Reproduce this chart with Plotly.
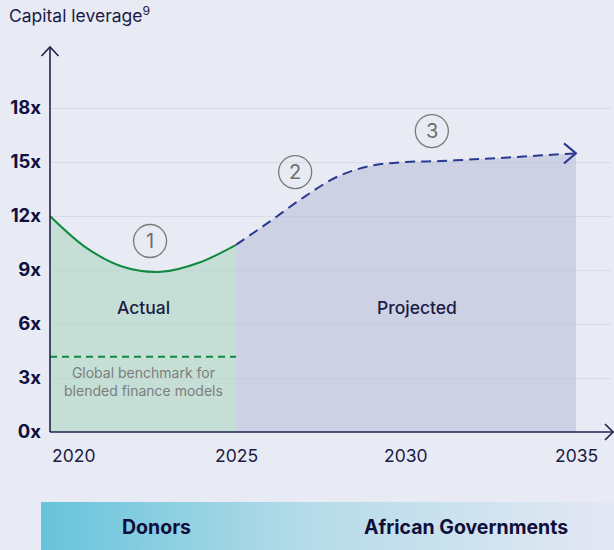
import plotly.graph_objects as go

# ---- data -------------------------------------------------------------
ACTUAL_YEARS = [2020, 2021, 2022, 2023, 2024, 2025]
ACTUAL_LEVERAGE = [12.0, 10.2, 9.15, 8.9, 9.4, 10.4]

PROJECTED_YEARS = [2025, 2026, 2027, 2028, 2029, 2030, 2031, 2032, 2033, 2034, 2035]
PROJECTED_LEVERAGE = [10.4, 11.7, 13.05, 14.2, 14.8, 15.0, 15.05, 15.15, 15.25, 15.37, 15.48]

BENCHMARK = 4.18
BENCHMARK_LABEL = "Global benchmark for<br>blended finance models"

Y_TICK_VALUES = [0, 3, 6, 9, 12, 15, 18]
Y_TICK_LABELS = ["0x", "3x", "6x", "9x", "12x", "15x", "18x"]
X_TICK_LABELS = [2020, 2025, 2030, 2035]

STEPS = [("1", "x", 2022.69, 10.61), ("2", "x3", 2026.74, 14.44), ("3", "x3", 2030.76, 16.72)]
FUNDERS = ["Donors", "African Governments"]

# ---- styling ----------------------------------------------------------
W, H = 614, 550
BG = "#e8eaf4"
INK = "#1b1b45"
AXIS = "#23234d"
GREEN = "#0f8a3e"
NAVY = "#2b3990"
GREY = "#6e6e6e"
FONT = "Inter"


def px(x):
    return x / W


def py(y):
    return 1 - y / H


fig = go.Figure()

# actual period (green)
fig.add_trace(go.Scatter(
    x=ACTUAL_YEARS, y=ACTUAL_LEVERAGE, xaxis="x", yaxis="y",
    mode="lines", line=dict(color=GREEN, width=2, shape="spline", smoothing=1.0),
    fill="tozeroy", fillcolor="rgba(168,214,190,0.55)", hoverinfo="skip",
))
fig.add_trace(go.Scatter(
    x=[ACTUAL_YEARS[0], ACTUAL_YEARS[-1]], y=[BENCHMARK, BENCHMARK], xaxis="x", yaxis="y",
    mode="lines", line=dict(color=GREEN, width=2, dash="7px,5px"), hoverinfo="skip",
))

# projected period (navy)
fig.add_trace(go.Scatter(
    x=PROJECTED_YEARS, y=PROJECTED_LEVERAGE, xaxis="x3", yaxis="y",
    mode="lines", line=dict(color=NAVY, width=2, shape="spline", smoothing=1.0, dash="10px,6px"),
    fill="tozeroy", fillcolor="rgba(180,187,214,0.55)", hoverinfo="skip",
))

# funder gradient bar
fig.add_trace(go.Scatter(
    x=[0, 1, 1, 0, 0], y=[0, 0, 1, 1, 0], xaxis="x2", yaxis="y2",
    mode="lines", line=dict(width=0), fill="toself",
    fillgradient=dict(type="horizontal",
                      colorscale=[[0, "#66c3db"], [0.45, "#b3dbe8"], [1, "#e4e8f4"]]),
    hoverinfo="skip",
))

y_top = (432 - 47) / 18

fig.update_layout(
    width=W, height=H, autosize=False,
    margin=dict(l=0, r=0, t=0, b=0, pad=0, autoexpand=False),
    paper_bgcolor=BG, plot_bgcolor=BG, showlegend=False,
    font=dict(family=FONT, color=INK),
    xaxis=dict(domain=[px(50), px(236)], range=[2020, 2025], anchor="y",
               showgrid=False, zeroline=False, showline=False, showticklabels=False, fixedrange=True),
    xaxis3=dict(domain=[px(236), px(611)], range=[2025, 2025 + 375 / 34], anchor="y",
                showgrid=False, zeroline=False, showline=False, showticklabels=False, fixedrange=True),
    yaxis=dict(domain=[py(432), py(47)], range=[0, y_top], anchor="x",
               tickvals=Y_TICK_VALUES, ticktext=Y_TICK_LABELS, ticks="",
               tickfont=dict(family=FONT, size=18.5, color="#101040", weight="bold"),
               ticklabelstandoff=8,
               showgrid=True, gridcolor="#d9dbe8", gridwidth=1, zeroline=False, showline=False,
               fixedrange=True),
    xaxis2=dict(domain=[px(41), 1], range=[0, 1], anchor="y2", visible=False, fixedrange=True),
    yaxis2=dict(domain=[0, py(502)], range=[0, 1], anchor="x2", visible=False, fixedrange=True),
)

shapes = []
# axis lines with open arrow heads
shapes.append(dict(type="line", xref="paper", yref="paper", x0=px(50), x1=px(50), y0=py(432), y1=py(47),
                   line=dict(color=AXIS, width=1.6)))
shapes.append(dict(type="line", xref="paper", yref="paper", x0=px(50), x1=px(613), y0=py(432), y1=py(432),
                   line=dict(color=AXIS, width=1.6)))
shapes.append(dict(type="path", xref="paper", yref="paper",
                   path=f"M {px(41.5)},{py(56)} L {px(50)},{py(47)} L {px(58.5)},{py(56)}",
                   line=dict(color=AXIS, width=1.6)))
shapes.append(dict(type="path", xref="paper", yref="paper",
                   path=f"M {px(605)},{py(424)} L {px(613)},{py(432)} L {px(605)},{py(440)}",
                   line=dict(color=AXIS, width=1.6)))
# arrow head closing the projection
shapes.append(dict(type="path", xref="x3", yref="y", xsizemode="pixel", ysizemode="pixel",
                   xanchor=PROJECTED_YEARS[-1], yanchor=PROJECTED_LEVERAGE[-1],
                   path="M -12,10 L 0,0 L -12,-10", line=dict(color=NAVY, width=2)))
# numbered step markers
for label, xr, sx, sy in STEPS:
    shapes.append(dict(type="circle", xref=xr, yref="y", xsizemode="pixel", ysizemode="pixel",
                       xanchor=sx, yanchor=sy, x0=-16.5, x1=16.5, y0=-16.5, y1=16.5,
                       line=dict(color="#7a7a7a", width=1.3)))
fig.update_layout(shapes=shapes)


def note(text, x, y, xref="paper", yref="paper", xanchor="center", size=16, color=INK, weight="normal"):
    return dict(text=text, xref=xref, yref=yref, x=x, y=y, xanchor=xanchor, yanchor="middle",
                showarrow=False, font=dict(size=size, color=color, weight=weight))


ann = [note("Capital leverage<sup>9</sup>", px(7), py(15), xanchor="left", size=17.5)]
for label, xr, sx, sy in STEPS:
    ann.append(note(label, sx, sy, xref=xr, yref="y", size=20, color=GREY))
ann.append(note("Actual", 2022.5, 6.89, xref="x", yref="y", size=17.5, weight=500))
ann.append(note("Projected", 2030.32, 6.89, xref="x3", yref="y", size=17.5, weight=500))
ann.append(note(BENCHMARK_LABEL, 2022.5, 2.83, xref="x", yref="y", size=14, color="#7d7d7d"))
for yr in X_TICK_LABELS:
    first = yr == X_TICK_LABELS[0]
    ann.append(note(str(yr), yr, py(455), xref="x" if yr < 2025 else "x3",
                    xanchor="left" if first else "center", size=17.5))
ann.append(note(FUNDERS[0], px(156), py(527), size=19.5, color="#0f0f3a", weight="bold"))
ann.append(note(FUNDERS[1], px(466), py(527), size=19.5, color="#0f0f3a", weight="bold"))
fig.update_layout(annotations=ann)

fig.write_html("out.html")
